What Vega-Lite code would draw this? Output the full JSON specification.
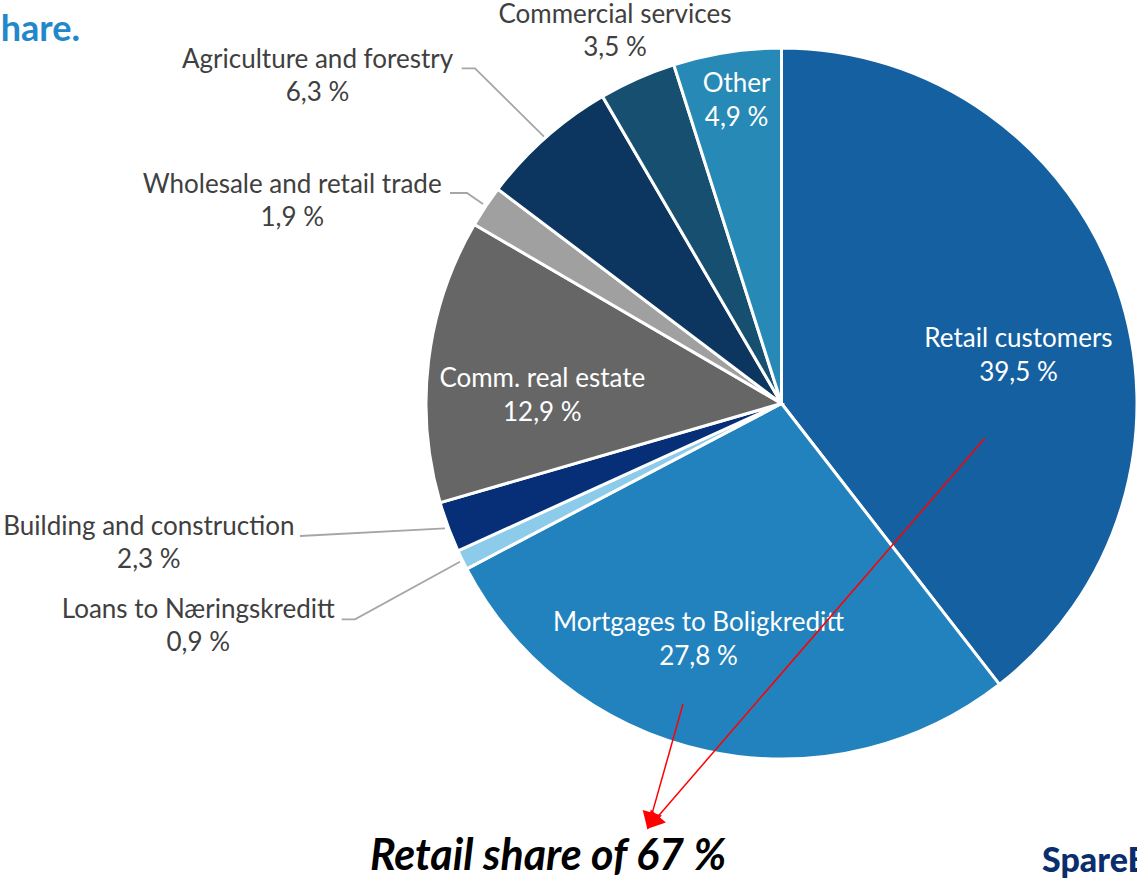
{
  "$schema": "https://vega.github.io/schema/vega-lite/v6.json",
  "autosize": {"type": "none"},
  "padding": {"left": 426, "top": 48, "right": 0, "bottom": 121},
  "width": 711,
  "height": 711,
  "background": "white",
  "config": {"view": {"stroke": null}, "font": "Lato"},
  "datasets": {
    "loans": [
      {"category": "Retail customers", "share": 39.5, "rank": 1},
      {"category": "Mortgages to Boligkreditt", "share": 27.8, "rank": 2},
      {"category": "Loans to Næringskreditt", "share": 0.9, "rank": 3},
      {"category": "Building and construction", "share": 2.3, "rank": 4},
      {"category": "Comm. real estate", "share": 12.9, "rank": 5},
      {"category": "Wholesale and retail trade", "share": 1.9, "rank": 6},
      {"category": "Agriculture and forestry", "share": 6.3, "rank": 7},
      {"category": "Commercial services", "share": 3.5, "rank": 8},
      {"category": "Other", "share": 4.9, "rank": 9}
    ],
    "leaders": [
      {"leader": "Agriculture and forestry", "seq": 1, "u": -0.8996, "v": 0.9429},
      {"leader": "Agriculture and forestry", "seq": 2, "u": -0.8622, "v": 0.9429},
      {"leader": "Agriculture and forestry", "seq": 3, "u": -0.6681, "v": 0.7505},
      {"leader": "Wholesale and retail trade", "seq": 1, "u": -0.9325, "v": 0.5921},
      {"leader": "Wholesale and retail trade", "seq": 2, "u": -0.8847, "v": 0.5921},
      {"leader": "Wholesale and retail trade", "seq": 3, "u": -0.8397, "v": 0.5612},
      {"leader": "Building and construction", "seq": 1, "u": -1.3544, "v": -0.3727},
      {"leader": "Building and construction", "seq": 2, "u": -0.9466, "v": -0.3511},
      {"leader": "Loans to Næringskreditt", "seq": 1, "u": -1.2371, "v": -0.607},
      {"leader": "Loans to Næringskreditt", "seq": 2, "u": -1.1997, "v": -0.607},
      {"leader": "Loans to Næringskreditt", "seq": 3, "u": -0.9044, "v": -0.445}
    ],
    "arrows": [
      {"arrow": "retail", "seq": 1, "u": 0.5724, "v": -0.097},
      {"arrow": "retail", "seq": 2, "u": -0.3572, "v": -1.1727},
      {"arrow": "mortgages", "seq": 1, "u": -0.2771, "v": -0.8453},
      {"arrow": "mortgages", "seq": 2, "u": -0.3679, "v": -1.1671}
    ],
    "notes": [
      {"note": "Retail share of 67 %"}
    ],
    "heading": [
      {"heading": "hare."}
    ],
    "logo": [
      {"brand": "SpareBank 1"}
    ]
  },
  "data": {"name": "loans"},
  "encoding": {
    "theta": {"field": "share", "type": "quantitative", "stack": true},
    "order": {"field": "rank", "type": "quantitative"}
  },
  "layer": [
    {
      "mark": {"type": "arc", "stroke": "white", "strokeWidth": 3},
      "encoding": {
        "color": {"field": "category", "type": "nominal", "legend": null,
          "scale": {"domain": ["Retail customers", "Mortgages to Boligkreditt", "Loans to Næringskreditt", "Building and construction", "Comm. real estate", "Wholesale and retail trade", "Agriculture and forestry", "Commercial services", "Other"],
                    "range": ["#1560A0", "#2282BD", "#8CCBEA", "#072F78", "#666666", "#A0A0A0", "#0C365F", "#174F70", "#2789B5"]}}
      }
    },
    {
      "mark": {"type": "text", "radius": 242, "dx": 8, "dy": 14, "font": "Lato", "fontSize": 26, "lineHeight": 34, "fill": "white", "align": "center", "baseline": "middle",
        "text": {"expr": "datum.category === 'Retail customers' ? [datum.category, replace(format(datum.share, '.1f'), '.', ',') + ' %'] : ''"}},
      "encoding": {"detail": {"field": "category"}}
    },
    {
      "mark": {"type": "text", "radius": 250, "dx": -30, "dy": -25, "font": "Lato", "fontSize": 26, "lineHeight": 34, "fill": "white", "align": "center", "baseline": "middle",
        "text": {"expr": "datum.category === 'Mortgages to Boligkreditt' ? [datum.category, replace(format(datum.share, '.1f'), '.', ',') + ' %'] : ''"}},
      "encoding": {"detail": {"field": "category"}}
    },
    {
      "mark": {"type": "text", "radius": 240, "dx": -1, "dy": 5, "font": "Lato", "fontSize": 26, "lineHeight": 34, "fill": "white", "align": "center", "baseline": "middle",
        "text": {"expr": "datum.category === 'Comm. real estate' ? [datum.category, replace(format(datum.share, '.1f'), '.', ',') + ' %'] : ''"}},
      "encoding": {"detail": {"field": "category"}}
    },
    {
      "mark": {"type": "text", "radius": 306, "dx": 2, "dy": -17, "font": "Lato", "fontSize": 26, "lineHeight": 34, "fill": "white", "align": "center", "baseline": "middle",
        "text": {"expr": "datum.category === 'Other' ? [datum.category, replace(format(datum.share, '.1f'), '.', ',') + ' %'] : ''"}},
      "encoding": {"detail": {"field": "category"}}
    },
    {
      "mark": {"type": "text", "radius": 408, "dx": -1, "dy": -16, "font": "Lato", "fontSize": 26, "lineHeight": 33, "fill": "#404040", "align": "center", "baseline": "middle",
        "text": {"expr": "datum.category === 'Commercial services' ? [datum.category, replace(format(datum.share, '.1f'), '.', ',') + ' %'] : ''"}},
      "encoding": {"detail": {"field": "category"}}
    },
    {
      "mark": {"type": "text", "radius": 568, "dx": -87, "dy": 81, "font": "Lato", "fontSize": 26, "lineHeight": 33, "fill": "#404040", "align": "center", "baseline": "middle",
        "text": {"expr": "datum.category === 'Agriculture and forestry' ? [datum.category, replace(format(datum.share, '.1f'), '.', ',') + ' %'] : ''"}},
      "encoding": {"detail": {"field": "category"}}
    },
    {
      "mark": {"type": "text", "radius": 529, "dx": -49, "dy": 75, "font": "Lato", "fontSize": 26, "lineHeight": 33, "fill": "#404040", "align": "center", "baseline": "middle",
        "text": {"expr": "datum.category === 'Wholesale and retail trade' ? [datum.category, replace(format(datum.share, '.1f'), '.', ',') + ' %'] : ''"}},
      "encoding": {"detail": {"field": "category"}}
    },
    {
      "mark": {"type": "text", "radius": 648, "dx": -25, "dy": -102, "font": "Lato", "fontSize": 26, "lineHeight": 33, "fill": "#404040", "align": "center", "baseline": "middle",
        "text": {"expr": "datum.category === 'Building and construction' ? [datum.category, replace(format(datum.share, '.1f'), '.', ',') + ' %'] : ''"}},
      "encoding": {"detail": {"field": "category"}}
    },
    {
      "mark": {"type": "text", "radius": 625, "dx": -22, "dy": -68, "font": "Lato", "fontSize": 26, "lineHeight": 33, "fill": "#404040", "align": "center", "baseline": "middle",
        "text": {"expr": "datum.category === 'Loans to Næringskreditt' ? [datum.category, replace(format(datum.share, '.1f'), '.', ',') + ' %'] : ''"}},
      "encoding": {"detail": {"field": "category"}}
    },
    {
      "data": {"name": "leaders"},
      "mark": {"type": "line", "color": "#A6A6A6", "strokeWidth": 1.8},
      "encoding": {
        "theta": null, "order": {"field": "seq", "type": "quantitative"},
        "x": {"field": "u", "type": "quantitative", "scale": {"domain": [-1, 1], "nice": false, "zero": false}, "axis": null},
        "y": {"field": "v", "type": "quantitative", "scale": {"domain": [-1, 1], "nice": false, "zero": false}, "axis": null},
        "detail": {"field": "leader"}
      }
    },
    {
      "data": {"name": "arrows"},
      "mark": {"type": "line", "color": "#FF0000", "strokeWidth": 1.5},
      "encoding": {
        "theta": null, "order": {"field": "seq", "type": "quantitative"},
        "x": {"field": "u", "type": "quantitative"},
        "y": {"field": "v", "type": "quantitative"},
        "detail": {"field": "arrow"}
      }
    },
    {
      "data": {"name": "arrows"},
      "transform": [{"filter": "datum.arrow === 'retail' && datum.seq === 2"}],
      "mark": {"type": "point", "shape": "triangle", "filled": true, "color": "#FF0000", "opacity": 1, "size": 400, "angle": 221},
      "encoding": {"theta": null, "order": null, "x": {"field": "u", "type": "quantitative"}, "y": {"field": "v", "type": "quantitative"}}
    },
    {
      "data": {"name": "arrows"},
      "transform": [{"filter": "datum.arrow === 'mortgages' && datum.seq === 2"}],
      "mark": {"type": "point", "shape": "triangle", "filled": true, "color": "#FF0000", "opacity": 1, "size": 400, "angle": 196},
      "encoding": {"theta": null, "order": null, "x": {"field": "u", "type": "quantitative"}, "y": {"field": "v", "type": "quantitative"}}
    },
    {
      "data": {"name": "notes"},
      "mark": {"type": "text", "font": "Lato", "fontSize": 43, "fontWeight": "bold", "fontStyle": "italic", "color": "black", "align": "center", "baseline": "alphabetic"},
      "encoding": {"theta": null, "order": null, "x": {"datum": -0.6568, "type": "quantitative"}, "y": {"datum": -1.3122, "type": "quantitative"}, "text": {"field": "note"}}
    },
    {
      "data": {"name": "heading"},
      "mark": {"type": "text", "font": "Lato", "fontSize": 36, "fontWeight": "bold", "color": "#2188C9", "align": "right", "baseline": "alphabetic"},
      "encoding": {"theta": null, "order": null, "x": {"datum": -1.9733, "type": "quantitative"}, "y": {"datum": 1.0197, "type": "quantitative"}, "text": {"field": "heading"}}
    },
    {
      "data": {"name": "logo"},
      "mark": {"type": "text", "font": "Lato", "fontSize": 34, "fontWeight": 900, "color": "#0A2D6E", "align": "left", "baseline": "alphabetic"},
      "encoding": {"theta": null, "order": null, "x": {"datum": 0.7328, "type": "quantitative"}, "y": {"datum": -1.3179, "type": "quantitative"}, "text": {"field": "brand"}}
    }
  ]
}
